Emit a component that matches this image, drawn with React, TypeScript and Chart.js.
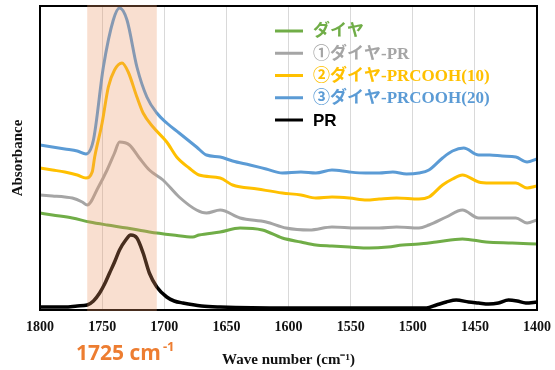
import React, { useEffect, useRef } from "react";
import { Chart, registerables } from "chart.js";
Chart.register(...registerables);

// ---- data (wave number in cm-1, absorbance in arbitrary units) ----
const seriesLabels = ["ダイヤ", "①ダイヤ-PR", "②ダイヤ-PRCOOH(10)", "③ダイヤ-PRCOOH(20)", "PR"];
const seriesColors = ["#70AD47", "#A5A5A5", "#FFC000", "#5B9BD5", "#000000"];

const greenWave = [1800, 1790, 1774, 1760, 1746, 1730, 1712, 1693, 1677, 1672, 1655, 1639, 1621, 1605, 1590, 1578, 1565, 1551, 1535, 1520, 1508, 1495, 1481, 1460, 1441, 1420, 1400];
const greenAbs = [97, 95, 92, 88, 85, 82, 78, 75, 73, 75, 78, 82, 80, 72, 68, 65, 64, 63, 62, 63, 65, 66, 68, 71, 68, 67, 66];

const grayWave = [1800, 1790, 1780, 1774, 1766, 1762, 1753, 1746, 1740, 1736, 1728, 1720, 1712, 1701, 1688, 1674, 1666, 1655, 1639, 1618, 1602, 1583, 1565, 1545, 1527, 1513, 1495, 1487, 1473, 1460, 1447, 1438, 1428, 1417, 1408, 1400];
const grayAbs = [115, 114, 113, 112, 108, 105, 123, 140, 157, 168, 165, 152, 140, 130, 113, 100, 97, 100, 92, 88, 82, 80, 83, 82, 82, 83, 82, 85, 93, 100, 92, 92, 92, 92, 87, 90];

const yellowWave = [1800, 1790, 1780, 1770, 1763, 1758, 1756, 1750, 1745, 1740, 1734, 1729, 1722, 1717, 1709, 1698, 1690, 1680, 1672, 1655, 1645, 1625, 1605, 1590, 1578, 1565, 1551, 1537, 1527, 1513, 1495, 1487, 1476, 1468, 1460, 1447, 1438, 1428, 1417, 1408, 1400];
const yellowAbs = [142, 140, 138, 135, 132, 138, 153, 187, 223, 240, 247, 238, 213, 197, 183, 168, 153, 142, 135, 132, 125, 121, 117, 115, 112, 113, 112, 110, 111, 112, 111, 113, 125, 131, 135, 128, 127, 127, 127, 122, 124];

const blueWave = [1800, 1790, 1780, 1770, 1763, 1757, 1749, 1741, 1736, 1730, 1722, 1714, 1706, 1698, 1688, 1674, 1666, 1655, 1645, 1631, 1618, 1605, 1590, 1578, 1565, 1551, 1538, 1527, 1516, 1505, 1495, 1487, 1476, 1468, 1459, 1447, 1438, 1428, 1417, 1408, 1400];
const blueAbs = [165, 163, 161, 159, 156, 170, 243, 290, 302, 290, 243, 213, 197, 187, 177, 163, 155, 153, 149, 145, 141, 137, 138, 137, 140, 138, 137, 137, 138, 136, 137, 140, 152, 159, 162, 155, 155, 154, 153, 148, 151];

const blackWave = [1800, 1780, 1770, 1762, 1757, 1752, 1748, 1744, 1740, 1736, 1731, 1727, 1722, 1717, 1712, 1706, 1698, 1692, 1685, 1670, 1655, 1600, 1550, 1500, 1489, 1481, 1473, 1465, 1455, 1447, 1439, 1431, 1423, 1416, 1409, 1400];
const blackAbs = [3, 3, 4, 5, 9, 17, 26, 37, 48, 60, 70, 75, 72, 57, 37, 23, 13, 9, 7, 4, 3, 2, 2, 2, 2, 5, 8, 10, 8, 7, 6, 7, 10, 9, 7, 8];

const xMin = 1400;
const xMax = 1800;
const xStep = 50;
const yMin = 0;
const yMax = 304;

const bandStart = 1762; // highlighted carbonyl band
const bandEnd = 1706;
const bandLabel = "1725 cm";
const bandLabelSup = "-1";
const xTitle = "Wave number (cm⁻¹)";
const yTitle = "Absorbance";

const serif = "'Liberation Serif', 'Times New Roman', serif";

export default function App() {
  const ref = useRef<HTMLCanvasElement | null>(null);

  useEffect(() => {
    document.body.style.margin = "0";
    const canvas = ref.current;
    if (!canvas) return;
    const ctx = canvas.getContext("2d");
    if (!ctx) return;

    const pts = (w: number[], a: number[]) => w.map((x, i) => ({ x, y: a[i] }));
    const series = [
      pts(greenWave, greenAbs),
      pts(grayWave, grayAbs),
      pts(yellowWave, yellowAbs),
      pts(blueWave, blueAbs),
      pts(blackWave, blackAbs),
    ];

    const framePlugin = {
      id: "frame",
      afterDatasetsDraw(chart: any) {
        const { ctx: c, chartArea: a } = chart;
        c.save();
        c.strokeStyle = "#000";
        c.lineWidth = 2;
        c.strokeRect(a.left, a.top, a.right - a.left, a.bottom - a.top);
        c.restore();
      },
    };

    const legendPlugin = {
      id: "insideLegend",
      afterDatasetsDraw(chart: any) {
        const c = chart.ctx;
        const ds = chart.data.datasets;
        c.save();
        const lineX0 = 275;
        const lineX1 = 303;
        const textX = 313;
        const y0 = 31;
        const step = 22.25;
        ds.forEach((d: any, i: number) => {
          const y = y0 + i * step;
          c.strokeStyle = d.borderColor;
          c.lineWidth = 3;
          c.beginPath();
          c.moveTo(lineX0, y);
          c.lineTo(lineX1, y);
          c.stroke();
          c.fillStyle = d.borderColor;
          c.textBaseline = "middle";
          c.textAlign = "left";
          if (d.label === "PR") {
            c.font = "bold 17px 'Liberation Sans', Arial, sans-serif";
          } else {
            c.font = "bold 17px 'Liberation Serif', 'Noto Sans CJK JP', serif";
          }
          c.fillText(d.label, textX, y + 1);
        });
        c.restore();
      },
    };

    const bandPlugin = {
      id: "band",
      afterDraw(chart: any) {
        const c = chart.ctx;
        const a = chart.chartArea;
        const xs = chart.scales.x;
        const x0 = xs.getPixelForValue(bandStart);
        const x1 = xs.getPixelForValue(bandEnd);
        c.save();
        c.fillStyle = "rgba(235, 150, 100, 0.3)";
        c.fillRect(Math.min(x0, x1), a.top - 1, Math.abs(x1 - x0), a.bottom - a.top + 2);
        // band label
        c.fillStyle = "#ED7D31";
        c.textBaseline = "alphabetic";
        c.textAlign = "left";
        c.font = "bold 21px 'Open Sans', 'Noto Sans', sans-serif";
        const lx = 76;
        const ly = 360;
        c.fillText(bandLabel, lx, ly);
        const w = c.measureText(bandLabel).width;
        c.font = "bold 13px 'Open Sans', 'Noto Sans', sans-serif";
        c.fillText(bandLabelSup, lx + w + 2, ly - 9);
        c.restore();
      },
    };

    const chart = new Chart(ctx, {
      type: "line",
      data: {
        datasets: series.map((data, i) => ({
          label: seriesLabels[i],
          data,
          borderColor: seriesColors[i],
          backgroundColor: seriesColors[i],
          borderWidth: i === 4 ? 3.5 : 3,
          pointRadius: 0,
          fill: false,
          cubicInterpolationMode: "monotone" as const,
        })),
      },
      options: {
        animation: false,
        responsive: false,
        maintainAspectRatio: false,
        layout: { padding: { top: 6, right: 18, left: 0, bottom: 0 } },
        plugins: {
          legend: { display: false },
          tooltip: { enabled: false },
        },
        scales: {
          x: {
            type: "linear",
            reverse: true,
            min: xMin,
            max: xMax,
            ticks: {
              stepSize: xStep,
              padding: 9,
              color: "#111",
              font: { family: serif, size: 14, weight: "bold" },
              callback: (v: any) => String(v),
            },
            grid: { color: "#D9D9D9", lineWidth: 1, drawTicks: false },
            border: { display: false },
            title: {
              display: true,
              text: xTitle,
              color: "#111",
              font: { family: serif, size: 15, weight: "bold" },
              padding: { top: 0, bottom: 1 },
            },
            afterFit: (s: any) => {
              s.height = 60;
              s.paddingLeft = 0;
              s.paddingRight = 0;
            },
          },
          y: {
            min: yMin,
            max: yMax,
            ticks: { display: false },
            grid: { display: false, drawTicks: false },
            border: { display: false },
            title: {
              display: true,
              text: yTitle,
              color: "#111",
              font: { family: serif, size: 15, weight: "bold" },
              padding: { top: 9, bottom: 0 },
            },
            afterFit: (s: any) => {
              s.width = 40;
            },
          },
        },
      } as any,
      plugins: [framePlugin, legendPlugin, bandPlugin],
    });

    return () => chart.destroy();
  }, []);

  return (
    <div style={{ position: "absolute", left: 0, top: 0, width: 555, height: 370 }}>
      <canvas ref={ref} width={555} height={370} style={{ width: 555, height: 370, display: "block" }} />
    </div>
  );
}
